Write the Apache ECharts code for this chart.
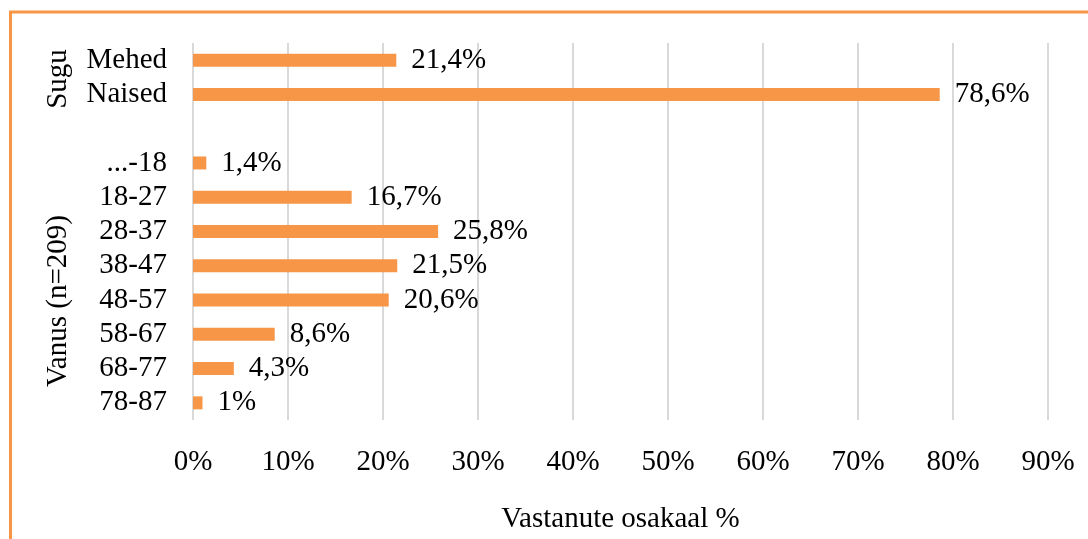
<!DOCTYPE html>
<html>
<head>
<meta charset="utf-8">
<script src="https://cdn.jsdelivr.net/npm/echarts@6/dist/echarts.min.js"></script>
<style>
html,body{margin:0;padding:0;background:#fff;}
#c{width:1088px;height:539px;}
</style>
</head>
<body>
<div id="c"></div>
<script>
const categories = ['Mehed', 'Naised', '', '...-18', '18-27', '28-37', '38-47', '48-57', '58-67', '68-77', '78-87'];
const values = [21.4, 78.6, null, 1.4, 16.7, 25.8, 21.5, 20.6, 8.6, 4.3, 1];
const xTicks = { min: 0, max: 90, interval: 10 };
const groupLabels = ['Sugu', 'Vanus (n=209)'];
const axisTitle = 'Vastanute osakaal %';

const FONT = "'Liberation Serif', 'Times New Roman', serif";
const FS = 29;
const chart = echarts.init(document.getElementById('c'));
chart.setOption({
  animation: false,
  backgroundColor: '#fff',
  textStyle: { fontFamily: FONT },
  grid: { left: 193, right: 40, top: 43, bottom: 112, containLabel: false },
  xAxis: {
    type: 'value', min: xTicks.min, max: xTicks.max, interval: xTicks.interval,
    axisLine: { show: false }, axisTick: { show: false },
    splitLine: { show: true, lineStyle: { color: '#d9d9d9', width: 2 } },
    axisLabel: { formatter: '{value}%', color: '#000', fontSize: FS, fontFamily: FONT, margin: 28 },
    name: axisTitle, nameLocation: 'middle', nameGap: 85,
    nameTextStyle: { color: '#000', fontSize: FS, fontFamily: FONT }
  },
  yAxis: {
    type: 'category', data: categories, inverse: true,
    axisLine: { show: false }, axisTick: { show: false },
    axisLabel: { interval: 0, color: '#000', fontSize: FS, fontFamily: FONT, margin: 26 }
  },
  series: [{
    type: 'bar', data: values, barWidth: 13,
    itemStyle: { color: '#F79646' },
    label: {
      show: true, position: 'right', distance: 15, color: '#000', fontSize: FS, fontFamily: FONT,
      formatter: p => String(p.value).replace('.', ',') + '%'
    }
  }],
  graphic: [
    { type: 'rect', shape: { x: 10.5, y: 12, width: 1200, height: 700 },
      style: { fill: 'none', stroke: '#F79646', lineWidth: 3 }, silent: true },
    { type: 'text', x: 58, y: 79, rotation: Math.PI / 2,
      style: { text: groupLabels[0], fill: '#000', font: FS + "px " + FONT, align: 'center', verticalAlign: 'middle' } },
    { type: 'text', x: 58, y: 301, rotation: Math.PI / 2,
      style: { text: groupLabels[1], fill: '#000', font: FS + "px " + FONT, align: 'center', verticalAlign: 'middle' } }
  ]
});
</script>
</body>
</html>
